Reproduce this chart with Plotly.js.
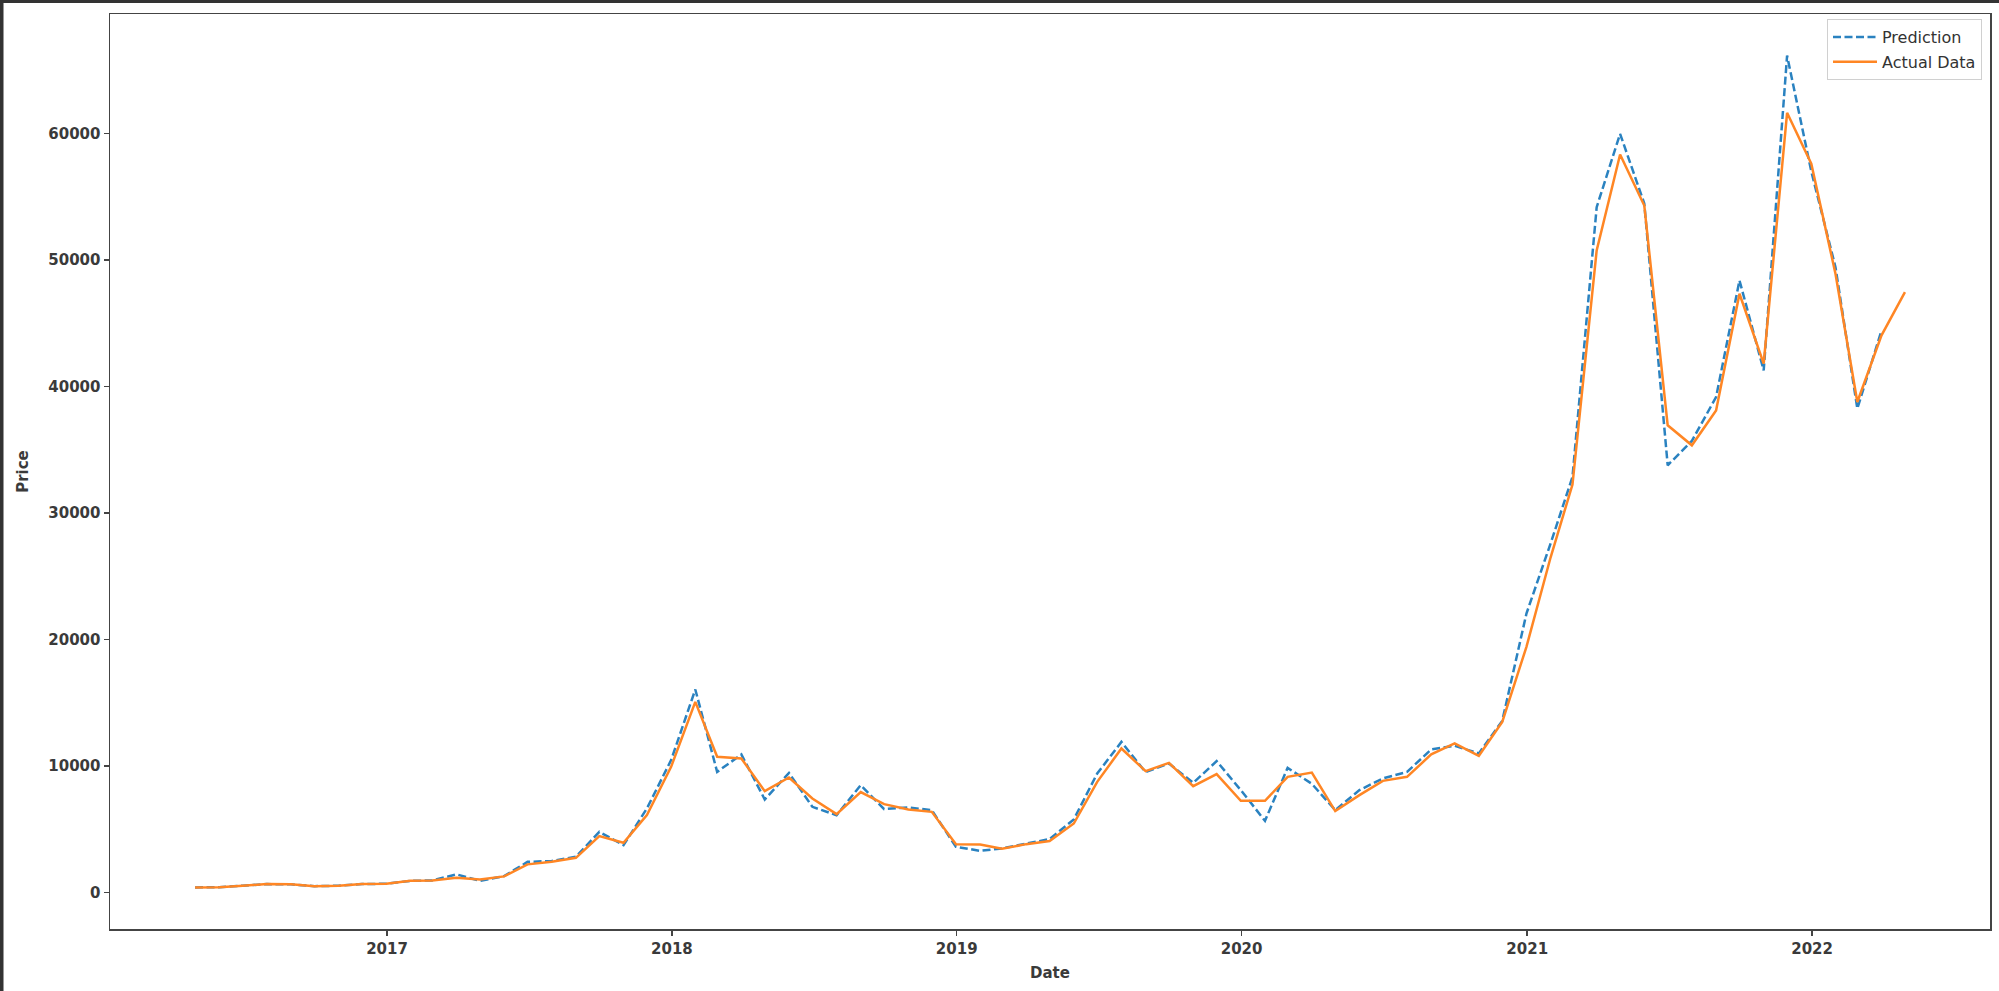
<!DOCTYPE html>
<html>
<head>
<meta charset="utf-8">
<script src="https://cdn.plot.ly/plotly-3.0.1.min.js"></script>
<style>html,body{margin:0;padding:0;background:#fff;}#chart{width:1999px;height:991px;}</style>
</head>
<body>
<div id="chart"></div>
<script>
// Month-end dates (2016-04 .. 2022-04)
const dates = [
"2016-04-30","2016-05-31","2016-06-30","2016-07-31","2016-08-31","2016-09-30","2016-10-31","2016-11-30","2016-12-31",
"2017-01-31","2017-02-28","2017-03-31","2017-04-30","2017-05-31","2017-06-30","2017-07-31","2017-08-31","2017-09-30","2017-10-31","2017-11-30","2017-12-31",
"2018-01-31","2018-02-28","2018-03-31","2018-04-30","2018-05-31","2018-06-30","2018-07-31","2018-08-31","2018-09-30","2018-10-31","2018-11-30","2018-12-31",
"2019-01-31","2019-02-28","2019-03-31","2019-04-30","2019-05-31","2019-06-30","2019-07-31","2019-08-31","2019-09-30","2019-10-31","2019-11-30","2019-12-31",
"2020-01-31","2020-02-29","2020-03-31","2020-04-30","2020-05-31","2020-06-30","2020-07-31","2020-08-31","2020-09-30","2020-10-31","2020-11-30","2020-12-31",
"2021-01-31","2021-02-28","2021-03-31","2021-04-30","2021-05-31","2021-06-30","2021-07-31","2021-08-31","2021-09-30","2021-10-31","2021-11-30","2021-12-31",
"2022-01-31","2022-02-28","2022-03-31","2022-04-30"
];

const actualValues = [
410,430,540,670,650,510,540,670,700,
930,960,1170,1040,1280,2230,2440,2750,4460,3940,6120,9940,
15070,10730,10600,8020,9100,7440,6200,7940,6990,6570,6380,3830,
3800,3460,3830,4070,5460,8750,11390,9600,10250,8410,9360,7250,
7250,9150,9490,6440,7700,8830,9150,10920,11790,10810,13490,19420,
26500,32250,50750,58330,54300,36930,35350,38110,47330,41800,61630,57600,
48910,38770,44040,47460
];

const predictionValues = [
410,430,540,670,650,510,540,670,700,
930,960,1440,930,1300,2430,2500,2830,4800,3750,6650,10470,
16050,9540,10920,7360,9460,6780,6120,8490,6600,6730,6520,3620,
3300,3490,3890,4230,5780,9410,11910,9520,10200,8670,10390,8100,
5670,9860,8600,6520,8100,9020,9540,11310,11600,11000,13570,22050,
27600,32850,54170,59970,54460,33770,35700,39160,48380,41270,66150,57000,
49430,38250,44430
];

const yearTickVals = ["2017-01-01","2018-01-01","2019-01-01","2020-01-01","2021-01-01","2022-01-01"];
const yearTickText = ["2017","2018","2019","2020","2021","2022"];
const priceTickVals = [0,10000,20000,30000,40000,50000,60000];

const W = 1999, H = 991, ML = 110, MR = 9, MT = 14, MB = 62;
const PW = W - ML - MR, PH = H - MT - MB;
const px = v => (v - ML) / PW;
const py = v => (H - MB - v) / PH;

const traces = [
  {
    x: dates.slice(0, predictionValues.length),
    y: predictionValues,
    type: "scatter", mode: "lines", name: "Prediction", legendgroup: "p",
    line: {color: "#2a82c0", width: 2.5, dash: "8px,3.5px"}
  },
  {
    x: dates,
    y: actualValues,
    type: "scatter", mode: "lines", name: "Actual Data", legendgroup: "a",
    line: {color: "#ff8624", width: 2.5}
  }
];

const tickFont = {family: "DejaVu Sans", size: 15, color: "#3a3a3a", weight: "bold"};

const layout = {
  width: W, height: H,
  margin: {l: ML, r: MR, t: MT, b: MB, pad: 0},
  paper_bgcolor: "#ffffff", plot_bgcolor: "#ffffff",
  showlegend: true,
  legend: {
    x: px(1982), y: py(19), xanchor: "right", yanchor: "top",
    bgcolor: "rgba(255,255,255,0.9)", bordercolor: "#d0d0d0", borderwidth: 1,
    font: {family: "DejaVu Sans", size: 16, color: "#333"},
    traceorder: "grouped", tracegroupgap: 1, itemwidth: 44
  },
  xaxis: {
    type: "date",
    range: ["2016-01-12", "2022-08-17"],
    tickmode: "array", tickvals: yearTickVals, ticktext: yearTickText,
    showgrid: false, zeroline: false,
    showline: true, mirror: true, linecolor: "#444", linewidth: 1.5,
    ticks: "outside", ticklen: 5, tickwidth: 1.5, tickcolor: "#444",
    tickfont: tickFont,
    title: {text: "Date", font: {family: "DejaVu Sans", size: 15, color: "#3a3a3a", weight: "bold"}, standoff: 11},
    automargin: false
  },
  yaxis: {
    range: [-2877, 69437],
    tickmode: "array", tickvals: priceTickVals, tickformat: "d",
    showgrid: false, zeroline: false,
    showline: true, mirror: true, linecolor: "#444", linewidth: 1.5,
    ticks: "outside", ticklen: 5, tickwidth: 1.5, tickcolor: "#444",
    tickfont: tickFont,
    title: {text: "Price", font: {family: "DejaVu Sans", size: 15, color: "#3a3a3a", weight: "bold"}, standoff: 16},
    automargin: false
  },
  shapes: [
    {type: "rect", xref: "paper", yref: "paper", x0: px(0), x1: px(3.5), y0: py(H), y1: py(0),
     fillcolor: "#333333", line: {width: 0}, layer: "above"},
    {type: "rect", xref: "paper", yref: "paper", x0: px(0), x1: px(W), y0: py(3), y1: py(0),
     fillcolor: "#333333", line: {width: 0}, layer: "above"}
  ]
};

Plotly.newPlot("chart", traces, layout, {displayModeBar: false, staticPlot: true});
</script>
</body>
</html>
